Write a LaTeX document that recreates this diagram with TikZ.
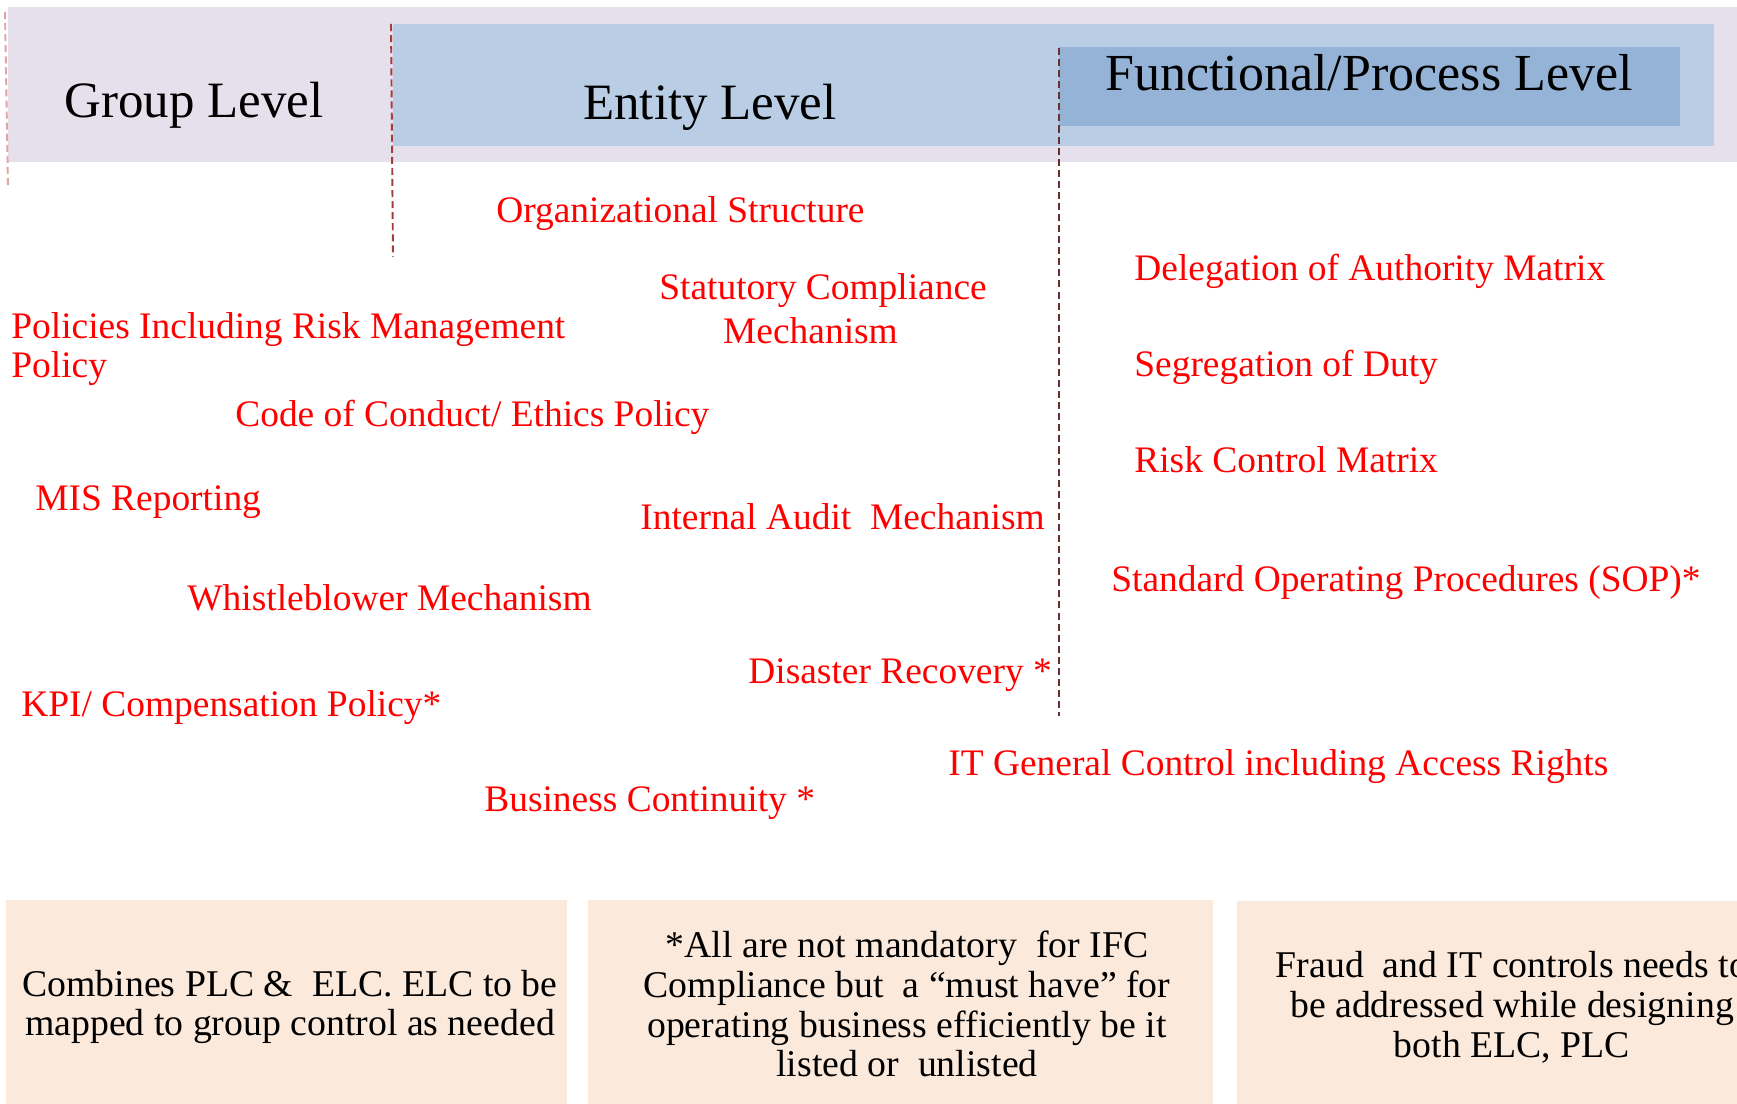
\documentclass[tikz,border=0pt]{standalone}
\usepackage{fontspec}
\setmainfont{Liberation Serif}

\definecolor{groupband}{HTML}{E6DFEC}
\definecolor{entityband}{HTML}{B9CDE5}
\definecolor{processband}{HTML}{95B3D7}
\definecolor{noteband}{HTML}{FBE9DB}
\definecolor{ctrlred}{HTML}{FF0000}
\definecolor{splitlight}{HTML}{E3A3A1}
\definecolor{splitmid}{HTML}{A03F3D}
\definecolor{splitdark}{HTML}{6B2E2E}

\begin{document}
\begin{tikzpicture}[x=0.02cm, y=-0.02cm,
    levelhead/.style={inner sep=0pt, font=\fontsize{29}{34}\selectfont},
    ctrl/.style={inner sep=0pt, text=ctrlred, font=\fontsize{21.3}{25}\selectfont},
    notetext/.style={inner sep=0pt, align=center, font=\fontsize{21.5}{22.7}\selectfont},
    split/.style={line width=1.1pt, dash pattern=on 4pt off 2.3pt}]

    \useasboundingbox (0,0) rectangle (1737,1104);
    \clip (0,0) rectangle (1737,1104);

    % ==========================================
    % BANDS: group / entity / process level
    % ==========================================
    \fill[groupband] (8,7) rectangle (1737,162);
    \fill[entityband] (393,24) rectangle (1714,146);
    \fill[processband] (1059,47) rectangle (1680,126);

    \node[levelhead] (group) at (194,105) {Group Level};
    \node[levelhead] (entity) at (710,107) {Entity Level};
    \node[levelhead, font=\fontsize{29.6}{34}\selectfont] (process) at (1369,73) {Functional/Process Level};

    % Dashed separators between the levels
    \coordinate (GroupTop) at (5,12);
    \coordinate (GroupBot) at (8,187);
    \coordinate (EntityTop) at (391,24);
    \coordinate (EntityBot) at (393,257);
    \coordinate (ProcTop) at (1059,48);
    \coordinate (ProcBot) at (1059,716);
    \draw[split, splitlight] (GroupTop) -- (GroupBot);
    \draw[split, splitmid] (EntityTop) -- (EntityBot);
    \draw[split, splitdark] (ProcTop) -- (ProcBot);

    % ==========================================
    % CONTROLS (red)
    % ==========================================
    \node[ctrl, anchor=west] (orgstruct) at (496,214) {Organizational Structure};
    \node[ctrl, align=center, font=\fontsize{21.3}{25}\selectfont] (statutory) at (823,309)
        {Statutory Compliance\\Mechanism\hspace*{0.5cm}};
    \node[ctrl, anchor=west, align=left, font=\fontsize{21.3}{22.7}\selectfont] (policies) at (11,349)
        {Policies Including Risk Management\\Policy};
    \node[ctrl, anchor=west] (conduct) at (235,417) {Code of Conduct/ Ethics Policy};
    \node[ctrl, anchor=west] (mis) at (35,502) {MIS Reporting};
    \node[ctrl, anchor=west] (audit) at (640,517) {Internal Audit~~Mechanism};
    \node[ctrl, anchor=west] (whistle) at (187,598) {Whistleblower Mechanism};
    \node[ctrl, anchor=west] (disaster) at (748,675) {Disaster Recovery *};
    \node[ctrl, anchor=west] (kpi) at (21,708) {KPI/ Compensation Policy*};
    \node[ctrl, anchor=west] (itgc) at (948,767) {IT General Control including Access Rights};
    \node[ctrl, anchor=west] (continuity) at (484,803) {Business Continuity *};

    \node[ctrl, anchor=west] (doa) at (1134,271) {Delegation of Authority Matrix};
    \node[ctrl, anchor=west] (sod) at (1134,367) {Segregation of Duty};
    \node[ctrl, anchor=west] (rcm) at (1134,460) {Risk Control Matrix};
    \node[ctrl, anchor=west] (sop) at (1111,583) {Standard Operating Procedures (SOP)*};

    % ==========================================
    % NOTES along the bottom
    % ==========================================
    \fill[noteband] (6,900) rectangle (567,1104);
    \fill[noteband] (588,900) rectangle (1213,1104);
    \fill[noteband] (1237,901) rectangle (1737,1104);

    \node[notetext] (combines) at (290,1007)
        {Combines PLC \&~~ELC. ELC to be\\mapped to group control as needed};
    \node[notetext] (mandatory) at (907,1004)
        {*All are not mandatory~~for IFC\\Compliance but~~a “must have” for\\operating business efficiently be it\\listed or~~unlisted};
    \node[notetext] (fraud) at (1512,1007)
        {Fraud~~and IT controls needs to\\be addressed while designing\\both ELC, PLC};

\end{tikzpicture}
\end{document}
